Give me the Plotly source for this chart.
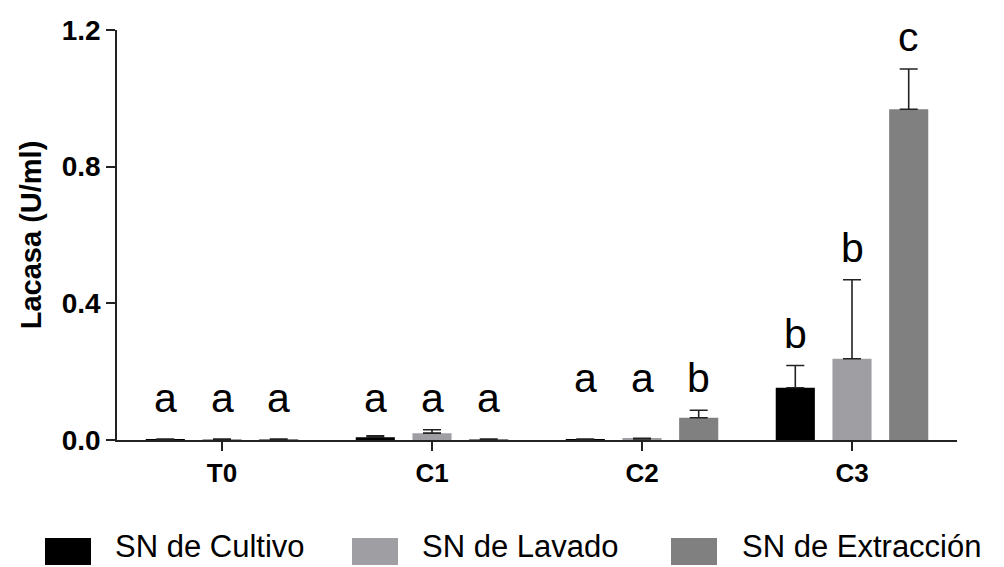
import plotly.graph_objects as go

categories = ["T0", "C1", "C2", "C3"]
series_names = ["SN de Cultivo", "SN de Lavado", "SN de Extracción"]
cultivo = [0.002, 0.008, 0.002, 0.153]
cultivo_err = [0.001, 0.004, 0.001, 0.065]
lavado = [0.002, 0.020, 0.003, 0.238]
lavado_err = [0.001, 0.010, 0.002, 0.231]
extraccion = [0.002, 0.002, 0.065, 0.968]
extraccion_err = [0.001, 0.001, 0.022, 0.118]
letters_cultivo = ["a", "a", "a", "b"]
letters_lavado = ["a", "a", "a", "b"]
letters_extraccion = ["a", "a", "b", "c"]
y_ticks = [0.0, 0.4, 0.8, 1.2]

colors = ["#000000", "#9f9fa3", "#808080"]
values = [cultivo, lavado, extraccion]
errors = [cultivo_err, lavado_err, extraccion_err]
letters = [letters_cultivo, letters_lavado, letters_extraccion]

# lowest height of the significance letters in each category (data units)
letter_min_y = [0.05, 0.05, 0.108, 0.05]
LETTER_PAD = 0.02

# figure geometry (pixels)
W, H = 1004, 567
ML, MR, MT, MB = 117, 47, 30, 127
PW, PH = W - ML - MR, H - MT - MB

def px_x(p):
    return (p - ML) / PW

def px_y(p):
    return (H - MB - p) / PH

# legend layout (pixels): swatch left, text left
legend_swatch_left = [45, 352, 671]
legend_text_left = [113, 420, 740]
SWATCH_W = 46

BARGAP = 0.19
BARGROUPGAP = 0.31
slot = (1 - BARGAP) / 3

x = list(range(len(categories)))
fig = go.Figure()
for name, vals, errs, col in zip(series_names, values, errors, colors):
    fig.add_trace(go.Bar(
        x=x, y=vals, name=name, showlegend=False,
        marker=dict(color=col, line=dict(width=0)),
        error_y=dict(type="data", array=errs, arrayminus=[0] * len(errs),
                     symmetric=False, color="#222222", thickness=1.6, width=9),
    ))

annotations = []
for j, (vals, errs, labs) in enumerate(zip(values, errors, letters)):
    for i, (v, e, lab) in enumerate(zip(vals, errs, labs)):
        annotations.append(dict(
            x=i + (j - 1) * slot, y=max(v + e + LETTER_PAD, letter_min_y[i]),
            xref="x", yref="y", text=lab, showarrow=False,
            yanchor="bottom", xanchor="center",
            font=dict(family="Liberation Sans, Arial, sans-serif", size=41, color="#000000"),
        ))

shapes = []
for name, col, sx, tx in zip(series_names, colors, legend_swatch_left, legend_text_left):
    shapes.append(dict(type="rect", xref="paper", yref="paper",
                       x0=px_x(sx), x1=px_x(sx + SWATCH_W), y0=px_y(538), y1=px_y(565),
                       fillcolor=col, line=dict(width=0), layer="above"))
    annotations.append(dict(x=px_x(tx), y=px_y(546), xref="paper", yref="paper",
                            text=name, showarrow=False, xanchor="left", yanchor="middle",
                            font=dict(family="Liberation Sans, Arial", size=31, color="#000000")))

fig.update_layout(
    width=W, height=H,
    margin=dict(l=ML, r=MR, t=MT, b=MB, autoexpand=False),
    paper_bgcolor="white", plot_bgcolor="white",
    barmode="group", bargap=BARGAP, bargroupgap=BARGROUPGAP,
    showlegend=False,
    annotations=annotations,
    shapes=shapes,
    xaxis=dict(
        tickmode="array", tickvals=x, ticktext=categories,
        range=[-0.5, 3.5],
        showline=True, linecolor="#222222", linewidth=1.6,
        ticks="outside", ticklen=9, tickwidth=1.6, tickcolor="#222222",
        showgrid=False, zeroline=False,
        tickfont=dict(family="Liberation Sans, Arial", size=26, color="#000000", weight="bold"),
    ),
    yaxis=dict(
        range=[0, 1.2], tickmode="array", tickvals=y_ticks,
        tickformat=".1f",
        showline=True, linecolor="#222222", linewidth=1.6,
        ticks="outside", ticklen=9, tickwidth=1.6, tickcolor="#222222",
        showgrid=False, zeroline=False,
        tickfont=dict(family="Liberation Sans, Arial", size=28, color="#000000", weight="bold"),
        title=dict(text="Lacasa (U/ml)", standoff=12,
                   font=dict(family="Liberation Sans, Arial", size=29, color="#000000", weight="bold")),
    ),
)

fig.write_html("out.html", config={"displayModeBar": False},
               post_script="document.body.style.margin='0';")
